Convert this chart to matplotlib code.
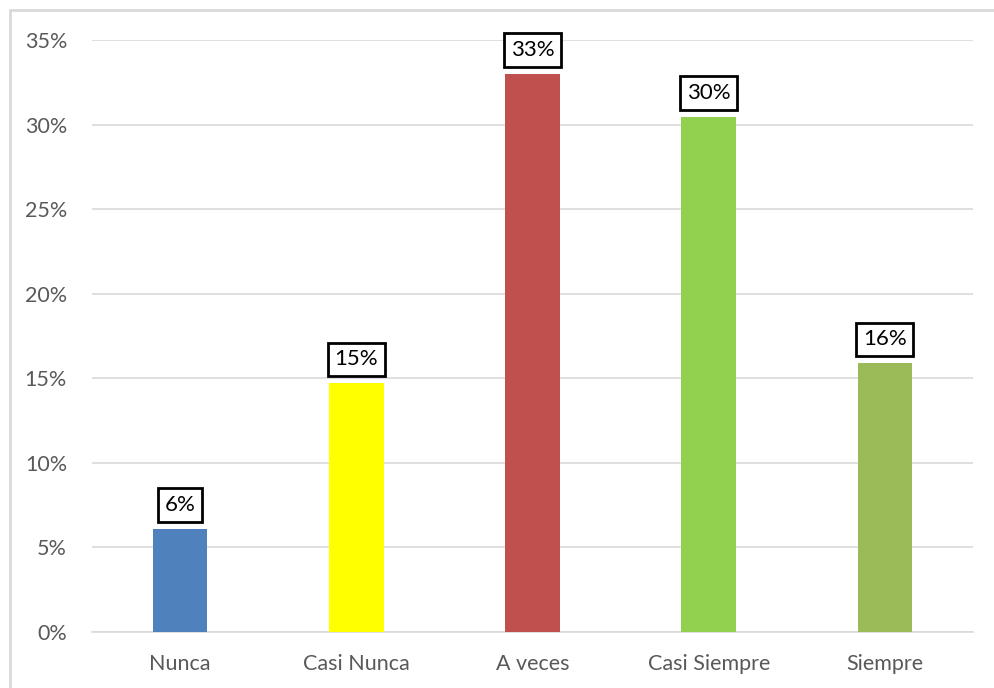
import matplotlib
matplotlib.use("Agg")
import matplotlib.pyplot as plt
from matplotlib.patches import Rectangle
from matplotlib.ticker import PercentFormatter, MultipleLocator

categories = ["Nunca", "Casi Nunca", "A veces", "Casi Siempre", "Siempre"]
values = [0.061, 0.147, 0.330, 0.3045, 0.159]
colors = ["#4f81bd", "#ffff00", "#c0504d", "#92d050", "#9bbb59"]

plt.rcParams["font.family"] = ["Lato", "DejaVu Sans"]

fig = plt.figure(figsize=(9.95, 6.88), dpi=100)
ax = fig.add_axes([92 / 995, 1 - 632 / 688, (973 - 92) / 995, (632 - 40) / 688])

# outer chart border
fig.patches.append(Rectangle((10 / 995, -0.05), 1.1, 1 - 10 / 688 + 0.05,
                             transform=fig.transFigure, fill=False,
                             edgecolor="#d9d9d9", linewidth=2))

x = range(len(categories))
bars = ax.bar(x, values, width=0.31, color=colors, zorder=3)

for rect, v in zip(bars, values):
    ax.annotate(f"{round(v * 100):d}%",
                xy=(rect.get_x() + rect.get_width() / 2, rect.get_height()),
                xytext=(0, 10), textcoords="offset points",
                ha="center", va="bottom", fontsize=16, color="black",
                bbox=dict(boxstyle="square,pad=0.3", fc="white",
                          ec="black", lw=2))

ax.set_ylim(0, 0.35)
ax.set_xlim(-0.5, len(categories) - 0.5)
ax.yaxis.set_major_locator(MultipleLocator(0.05))
ax.yaxis.set_major_formatter(PercentFormatter(1.0, decimals=0))
ax.set_xticks(list(x))
ax.set_xticklabels(categories)
ax.tick_params(axis="both", length=0, labelsize=15.5, labelcolor="#595959")
ax.tick_params(axis="y", pad=18)
ax.tick_params(axis="x", pad=16)
ax.grid(axis="y", color="#d9d9d9", linewidth=1.2, zorder=0)
for side in ["top", "right", "left"]:
    ax.spines[side].set_visible(False)
ax.spines["bottom"].set_color("#d9d9d9")
ax.spines["bottom"].set_linewidth(1.2)

fig.savefig("out.png", dpi=100)
